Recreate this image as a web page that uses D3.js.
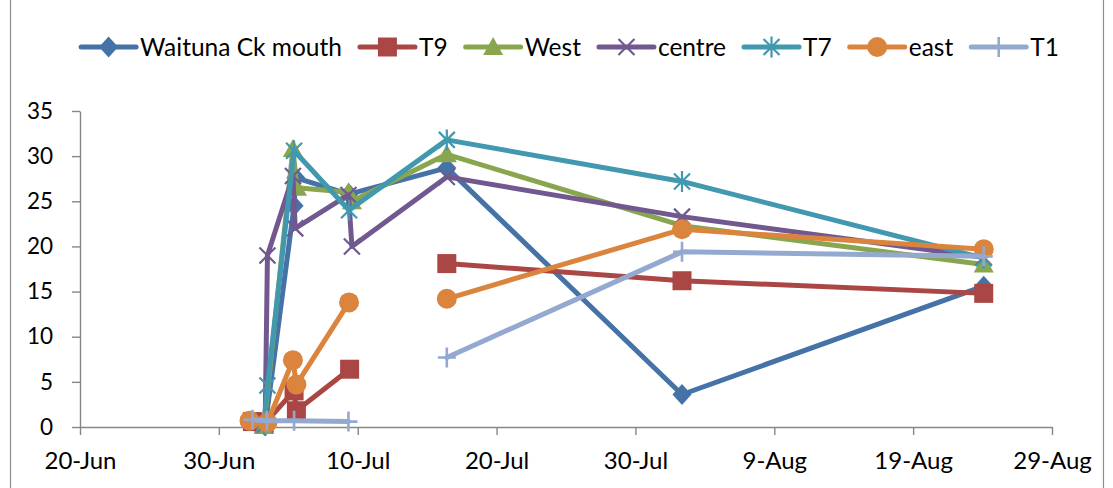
<!DOCTYPE html>
<html>
<head>
<meta charset="utf-8">
<script src="https://cdn.jsdelivr.net/npm/d3@7"></script>
<style>
  html, body { margin: 0; padding: 0; background: #ffffff; }
  svg { display: block; font-family: Lato, "Open Sans", sans-serif; }
</style>
</head>
<body>
<svg id="chart" width="1113" height="488"></svg>
<script>
// ---- data -------------------------------------------------------------
const tickDates = ["2012-06-20 00:00", "2012-06-30 00:00", "2012-07-10 00:00", "2012-07-20 00:00",
                   "2012-07-30 00:00", "2012-08-09 00:00", "2012-08-19 00:00", "2012-08-29 00:00"];
const yTicks = [0, 5, 10, 15, 20, 25, 30, 35];

const seriesNames = ["Waituna Ck mouth", "T9", "West", "centre", "T7", "east", "T1"];

const waitunaDates  = ["2012-07-03 08:00", "2012-07-05 10:00", "2012-07-05 13:00", "2012-07-09 09:00",
                       "2012-07-16 10:00", "2012-08-02 08:30", "2012-08-24 02:00"];
const waitunaValues = [0.1, 24.5, 27.6, 25.8, 28.7, 3.6, 15.6];

const t9Dates  = ["2012-07-02 10:00", "2012-07-03 06:00", "2012-07-05 10:00", "2012-07-05 14:00",
                  "2012-07-09 10:00", "2012-07-12 00:00", "2012-07-16 10:00", "2012-08-02 08:30",
                  "2012-08-24 02:00"];
const t9Values = [0.6, 0.3, 4.0, 1.8, 6.4, null, 18.1, 16.2, 14.8];

const westDates  = ["2012-07-03 06:00", "2012-07-05 08:00", "2012-07-05 15:00", "2012-07-09 08:00",
                    "2012-07-09 14:00", "2012-07-16 10:00", "2012-08-02 08:30", "2012-08-24 02:00"];
const westValues = [0.1, 30.8, 26.5, 26.0, 25.0, 30.2, 22.3, 18.0];

const centreDates  = ["2012-07-03 08:00", "2012-07-03 12:00", "2012-07-05 08:00", "2012-07-05 12:00",
                      "2012-07-09 08:00", "2012-07-09 14:00", "2012-07-16 10:00", "2012-08-02 08:30",
                      "2012-08-24 02:00"];
const centreValues = [0.3, 19.0, 27.8, 22.0, 25.7, 20.0, 27.7, 23.3, 18.8];

const t7Dates  = ["2012-07-03 06:00", "2012-07-03 12:00", "2012-07-05 10:00", "2012-07-09 09:00",
                  "2012-07-16 10:00", "2012-08-02 08:30", "2012-08-24 02:00"];
const t7Values = [0.3, 4.6, 30.6, 24.0, 31.8, 27.2, 18.7];

const eastDates  = ["2012-07-02 05:00", "2012-07-03 12:00", "2012-07-05 08:00", "2012-07-05 14:00",
                    "2012-07-09 09:00", "2012-07-12 00:00", "2012-07-16 10:00", "2012-08-02 08:30",
                    "2012-08-24 02:00"];
const eastValues = [0.7, 0.5, 7.4, 4.7, 13.8, null, 14.2, 21.9, 19.7];

const t1Dates  = ["2012-07-02 10:00", "2012-07-03 11:00", "2012-07-05 10:00", "2012-07-09 08:00",
                  "2012-07-12 00:00", "2012-07-16 10:00", "2012-08-02 08:30", "2012-08-24 02:00"];
const t1Values = [0.8, 0.7, 0.7, 0.6, null, 7.7, 19.4, 18.9];

const seriesDates  = [waitunaDates, t9Dates, westDates, centreDates, t7Dates, eastDates, t1Dates];
const seriesValues = [waitunaValues, t9Values, westValues, centreValues, t7Values, eastValues, t1Values];

// ---- appearance -------------------------------------------------------
const seriesColors  = ["#4572A7", "#AA4643", "#89A54E", "#71588F", "#4198AF", "#DB843D", "#93A9CF"];
const seriesMarkers = ["diamond", "square", "triangle", "cross", "asterisk", "circle", "plus"];

const W = 1113, H = 488;
const plot = { left: 80, right: 1052, top: 111, bottom: 427 };
const legendFont = 24.5, xFont = 24, yFont = 22.5;
const axisColor = "#868686";

const parseTime = d3.utcParse("%Y-%m-%d %H:%M");
const fmt = d3.utcFormat("%-d-%b");

const svg = d3.select("#chart");

// chart frame
svg.append("rect")
  .attr("x", 10.5).attr("y", -5)
  .attr("width", 1093).attr("height", H + 10)
  .attr("fill", "none").attr("stroke", "#8c8c8c").attr("stroke-width", 1.2);

const x = d3.scaleUtc()
  .domain([parseTime(tickDates[0]), parseTime(tickDates[tickDates.length - 1])])
  .range([plot.left, plot.right]);
const y = d3.scaleLinear().domain([0, 35]).range([plot.bottom, plot.top]);

// axes
const xAxis = svg.append("g")
  .attr("transform", `translate(0,${plot.bottom})`)
  .call(d3.axisBottom(x)
    .tickValues(tickDates.map(parseTime))
    .tickFormat(fmt)
    .tickSize(8).tickSizeOuter(0).tickPadding(17));

const yAxis = svg.append("g")
  .attr("transform", `translate(${plot.left},0)`)
  .call(d3.axisLeft(y)
    .tickValues(yTicks)
    .tickFormat(d3.format("d"))
    .tickSize(8).tickSizeOuter(0).tickPadding(19));

[[xAxis, xFont], [yAxis, yFont]].forEach(([g, fs]) => {
  g.select(".domain").attr("stroke", axisColor).attr("stroke-width", 1.4);
  g.selectAll(".tick line").attr("stroke", axisColor).attr("stroke-width", 1.4);
  g.selectAll(".tick text")
    .attr("fill", "#000").attr("font-size", fs)
    .attr("font-family", "Lato, 'Open Sans', sans-serif");
});

// marker shapes
function markerPath(type) {
  switch (type) {
    case "diamond":  return "M0,-10.5L9.5,0L0,10.5L-9.5,0Z";
    case "square":   return "M-9.5,-9.5H9.5V9.5H-9.5Z";
    case "triangle": return "M0,-10L10,8H-10Z";
    case "circle":   return "M10,0A10,10 0 1,1 -10,0A10,10 0 1,1 10,0Z";
    case "cross":    return "M-8,-8L8,8M-8,8L8,-8";
    case "asterisk": return "M-8,-8L8,8M-8,8L8,-8M0,-10.5V10.5";
    case "plus":     return "M-9,0H9M0,-10V10";
  }
}
const filled = t => ["diamond", "square", "triangle", "circle"].includes(t);

function drawMarker(g, type, color, cx, cy) {
  const p = g.append("path")
    .attr("d", markerPath(type))
    .attr("transform", `translate(${cx},${cy})`);
  if (filled(type)) {
    p.attr("fill", color).attr("stroke", "none");
  } else {
    p.attr("fill", "none").attr("stroke", color).attr("stroke-width", type === "plus" ? 2.6 : 2.2);
  }
}

const line = d3.line()
  .defined(d => d.v !== null)
  .x(d => x(d.t))
  .y(d => y(d.v));

const series = seriesNames.map((name, i) => ({
  name,
  color: seriesColors[i],
  marker: seriesMarkers[i],
  points: seriesDates[i].map((s, j) => ({ t: parseTime(s), v: seriesValues[i][j] }))
}));

const dataLayer = svg.append("g");
series.forEach(s => {
  const g = dataLayer.append("g");
  g.append("path")
    .datum(s.points)
    .attr("d", line)
    .attr("fill", "none")
    .attr("stroke", s.color)
    .attr("stroke-width", 5)
    .attr("stroke-linejoin", "round")
    .attr("stroke-linecap", "round");
  s.points.filter(d => d.v !== null).forEach(d => drawMarker(g, s.marker, s.color, x(d.t), y(d.v)));
});

// legend
const legend = svg.append("g");
const legendY = 47, lineLen = 55, textGap = 4, itemGap = 18;
let cursor = 0;
series.forEach(s => {
  const item = legend.append("g").attr("transform", `translate(${cursor},0)`);
  item.append("line")
    .attr("x1", 0).attr("x2", lineLen)
    .attr("y1", legendY).attr("y2", legendY)
    .attr("stroke", s.color).attr("stroke-width", 5).attr("stroke-linecap", "round");
  drawMarker(item, s.marker, s.color, lineLen / 2, legendY);
  const txt = item.append("text")
    .attr("x", lineLen + textGap).attr("y", legendY)
    .attr("dy", "0.36em")
    .attr("font-size", legendFont).attr("fill", "#000")
    .text(s.name);
  cursor += lineLen + textGap + txt.node().getComputedTextLength() + itemGap;
});
const legendWidth = cursor - itemGap;
legend.attr("transform", `translate(${570 - legendWidth / 2},0)`);
</script>
</body>
</html>
